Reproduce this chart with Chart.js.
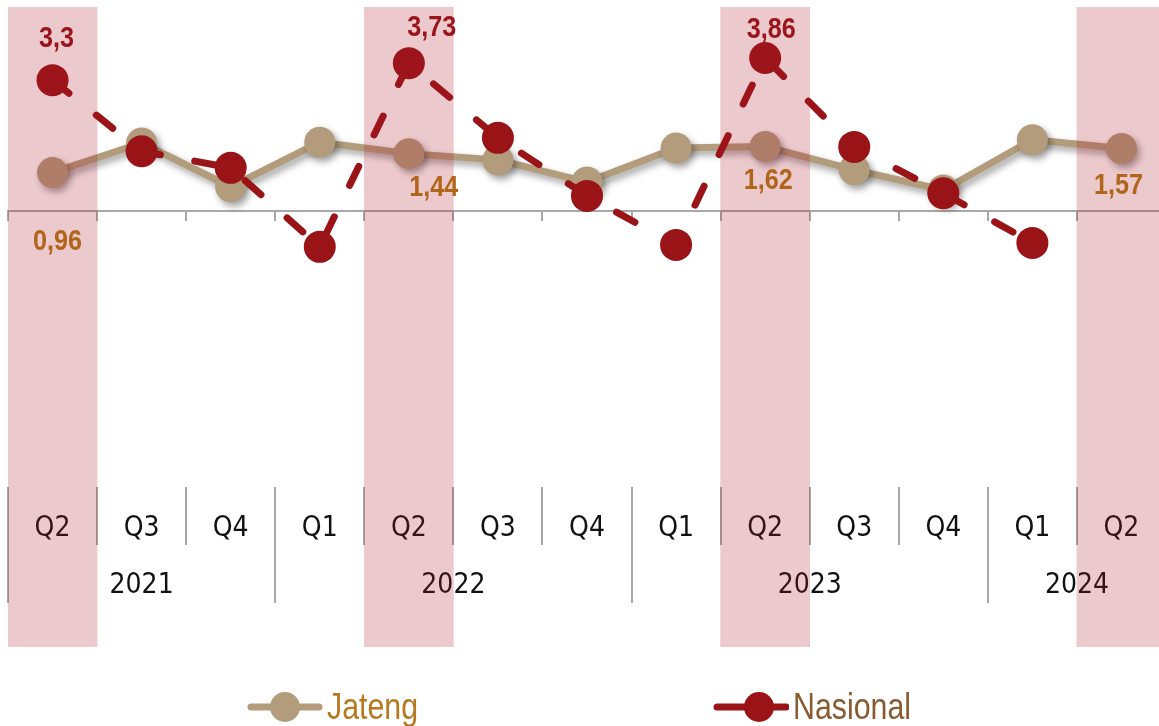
<!DOCTYPE html>
<html>
<head>
<meta charset="utf-8">
<script src="https://cdn.jsdelivr.net/npm/chart.js@4"></script>
<style>
html,body{margin:0;padding:0;background:#fff;overflow:hidden;width:1159px;height:726px}
#wrap{position:relative;width:1159px;height:726px;overflow:hidden}
#c{position:absolute;left:-8px;top:-9px}
.leg{position:absolute;top:687px;height:40px;display:flex;align-items:center;line-height:40px;white-space:nowrap}
.leg svg{display:block}
.leg span{display:inline-block;margin-left:4px;font-family:'Liberation Sans',Arial,sans-serif;font-size:37px;transform:scaleX(0.82);transform-origin:left center}
</style>
</head>
<body>
<div id="wrap">
<canvas id="c" width="1190" height="735"></canvas>
</div>
<script>
// ---- data ----
const categories = ['Q2','Q3','Q4','Q1','Q2','Q3','Q4','Q1','Q2','Q3','Q4','Q1','Q2'];
const years = ['2021','2022','2023','2024'];
const yearSpans = [3, 4, 4, 2];
const jateng = [0.96, 1.71, 0.60, 1.73, 1.44, 1.28, 0.72, 1.58, 1.62, 1.03, 0.52, 1.79, 1.57];
const nasional = [3.30, 1.50, 1.08, -0.92, 3.73, 1.84, 0.37, -0.87, 3.86, 1.61, 0.44, -0.82, null];
const highlight = [1, null, null, null, 1, null, null, null, 1, null, null, null, 1];
const labeledIndex = [0, 4, 8, 12];

// ---- styles ----
const TICK_FONT = "'DejaVu Sans Condensed','Liberation Sans',sans-serif";
const LABEL_FONT = "'Liberation Sans',Arial,sans-serif";
const C_JAT = '#B29C7C';
const C_NAS = '#991317';
const C_JAT_LBL = '#B0651A';
const C_NAS_LBL = '#9B141B';
const C_BAND = 'rgba(170,30,40,0.24)';
const C_GRID = '#A8A8A8';
const AXIS_ROW = -7;      // value on y where the category rows start
// label offsets (px) relative to the point, per series
const labelOffsets = {
  nas: {0: [4, -41], 4: [23, -35], 8: [6, -28]},
  jat: {0: [5, 69], 4: [25, 34], 8: [3, 34], 12: [-3, 37]}
};

const shadowPlugin = {
  id: 'shadow',
  beforeDatasetDraw(chart, args) {
    if (chart.data.datasets[args.index].shadow) {
      const ctx = chart.ctx;
      ctx.save();
      ctx.shadowColor = 'rgba(0,0,0,0.38)';
      ctx.shadowBlur = 7;
      ctx.shadowOffsetX = 3;
      ctx.shadowOffsetY = 4;
    }
  },
  afterDatasetDraw(chart, args) {
    if (chart.data.datasets[args.index].shadow) chart.ctx.restore();
  }
};

const yearRowPlugin = {
  id: 'yearRow',
  beforeDatasetsDraw(chart) {
    const xs = chart.scales.x, ys = chart.scales.y, ctx = chart.ctx;
    const top = ys.getPixelForValue(AXIS_ROW);
    const sepBottom = top + 116;
    const textY = top + 99;
    ctx.save();
    ctx.strokeStyle = C_GRID;
    ctx.lineWidth = 2;
    ctx.fillStyle = '#111';
    ctx.font = '28px ' + TICK_FONT;
    ctx.textAlign = 'center';
    ctx.textBaseline = 'middle';
    let start = 0;
    years.forEach((yr, i) => {
      const span = yearSpans[i];
      const xl = xs.getPixelForValue(start) - xs.width / categories.length / 2;
      const xc = (xs.getPixelForValue(start) + xs.getPixelForValue(start + span - 1)) / 2;
      ctx.beginPath();
      ctx.moveTo(Math.round(xl), top);
      ctx.lineTo(Math.round(xl), sepBottom);
      ctx.stroke();
      ctx.fillText(yr, xc, textY);
      start += span;
    });
    ctx.restore();
  }
};

const labelPlugin = {
  id: 'valueLabels',
  afterDatasetsDraw(chart) {
    const ctx = chart.ctx;
    chart.data.datasets.forEach((ds, di) => {
      if (!ds.labelKey) return;
      const meta = chart.getDatasetMeta(di);
      labeledIndex.forEach(idx => {
        const v = ds.data[idx];
        const off = labelOffsets[ds.labelKey][idx];
        if (v == null || !off) return;
        const el = meta.data[idx];
        ctx.save();
        ctx.font = 'bold 30px ' + LABEL_FONT;
        ctx.textAlign = 'center';
        ctx.textBaseline = 'middle';
        ctx.fillStyle = ds.labelColor;
        ctx.translate(el.x + off[0], el.y + off[1]);
        ctx.scale(0.84, 1);
        ctx.fillText(String(v).replace('.', ','), 0, 0);
        ctx.restore();
      });
    });
  }
};

const chart = new Chart(document.getElementById('c'), {
  data: {
    labels: categories,
    datasets: [
      {
        type: 'line', label: 'Jateng', data: jateng, order: 3, shadow: true,
        labelKey: 'jat', labelColor: C_JAT_LBL,
        borderColor: C_JAT, backgroundColor: C_JAT, borderWidth: 7,
        borderCapStyle: 'round', borderJoinStyle: 'round',
        pointRadius: 15.5, pointHoverRadius: 15.5, pointBorderWidth: 0,
        pointBackgroundColor: C_JAT, tension: 0, fill: false
      },
      {
        type: 'line', label: 'Nasional', data: nasional, order: 2,
        labelKey: 'nas', labelColor: C_NAS_LBL,
        borderColor: C_NAS, backgroundColor: C_NAS, borderWidth: 7,
        borderDash: [21, 35], borderCapStyle: 'round', borderJoinStyle: 'round',
        pointRadius: 16, pointHoverRadius: 16, pointBorderWidth: 0,
        pointBackgroundColor: C_NAS, tension: 0, fill: false
      },
      {
        type: 'bar', label: 'band', data: highlight, order: 1, yAxisID: 'y2',
        backgroundColor: C_BAND, borderWidth: 0,
        barPercentage: 1, categoryPercentage: 1
      }
    ]
  },
  options: {
    responsive: false,
    animation: false,
    events: [],
    layout: {padding: {left: 0, right: 0, top: 7, bottom: 79}},
    plugins: {legend: {display: false}, tooltip: {enabled: false}},
    scales: {
      y: {display: false, min: -11.05, max: 5.152},
      y2: {display: false, min: 0, max: 1},
      x: {
        type: 'category', position: {y: AXIS_ROW}, offset: true,
        grid: {offset: true, drawOnChartArea: false, drawTicks: true, tickLength: 58, color: C_GRID, lineWidth: 2},
        border: {display: false},
        ticks: {padding: -33, color: '#111', font: {family: TICK_FONT, size: 28}, maxRotation: 0, autoSkip: false}
      },
      x0: {
        type: 'category', position: {y: 0}, offset: true,
        grid: {offset: true, drawOnChartArea: false, drawTicks: true, tickLength: 9, color: C_GRID, lineWidth: 2},
        border: {display: true, color: C_GRID, width: 2},
        ticks: {display: false}
      }
    }
  },
  plugins: [shadowPlugin, yearRowPlugin, labelPlugin]
});

// ---- legend (HTML) ----
function legendItem(left, ds, textColor, dashed) {
  const d = document.createElement('div');
  d.className = 'leg';
  d.style.left = left + 'px';
  d.style.color = textColor;
  const w = 76;
  let lines;
  if (dashed) {
    lines = `<line x1="4" y1="20" x2="34" y2="20" stroke="${ds.borderColor}" stroke-width="7" stroke-linecap="round"/>
             <line x1="58" y1="20" x2="73" y2="20" stroke="${ds.borderColor}" stroke-width="7" stroke-linecap="round"/>`;
  } else {
    lines = `<line x1="4" y1="20" x2="72" y2="20" stroke="${ds.borderColor}" stroke-width="7" stroke-linecap="round"/>`;
  }
  const cx = dashed ? 46 : 38;
  d.innerHTML = `<svg width="${w}" height="40">${lines}<circle cx="${cx}" cy="20" r="15" fill="${ds.borderColor}"/></svg><span>${ds.label}</span>`;
  document.getElementById('wrap').appendChild(d);
}
legendItem(247, chart.data.datasets[0], '#B8781F', false);
legendItem(713, chart.data.datasets[1], '#8A5A30', true);
</script>
</body>
</html>
